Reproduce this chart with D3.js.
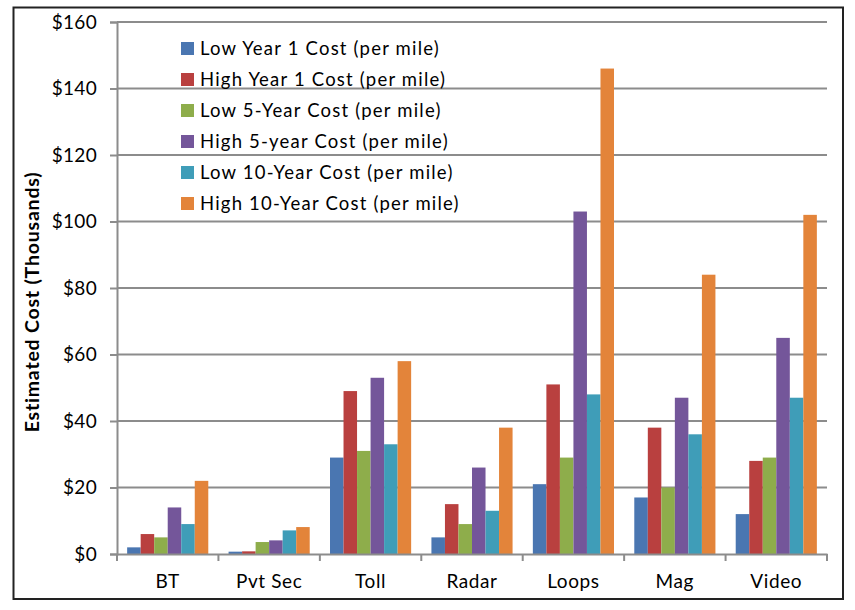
<!DOCTYPE html>
<html>
<head>
<meta charset="utf-8">
<script src="https://cdn.jsdelivr.net/npm/d3@7"></script>
<style>
  html, body { margin: 0; padding: 0; background: #fff; }
  svg { display: block; }
  text { font-family: Lato, "Open Sans", sans-serif; fill: #000; }
</style>
</head>
<body>
<svg id="chart" width="855" height="610"></svg>
<script>
const categories = ["BT", "Pvt Sec", "Toll", "Radar", "Loops", "Mag", "Video"];
const seriesNames = [
  "Low Year 1 Cost (per mile)",
  "High Year 1 Cost (per mile)",
  "Low 5-Year Cost (per mile)",
  "High 5-year Cost (per mile)",
  "Low 10-Year Cost (per mile)",
  "High 10-Year Cost (per mile)"
];
const lowYear1   = [2, 0.7, 29, 5, 21, 17, 12];
const highYear1  = [6, 0.8, 49, 15, 51, 38, 28];
const low5Year   = [5, 3.6, 31, 9, 29, 20, 29];
const high5Year  = [14, 4.1, 53, 26, 103, 47, 65];
const low10Year  = [9, 7.1, 33, 13, 48, 36, 47];
const high10Year = [22, 8.1, 58, 38, 146, 84, 102];
const seriesValues = [lowYear1, highYear1, low5Year, high5Year, low10Year, high10Year];
const yTicks = [0, 20, 40, 60, 80, 100, 120, 140, 160];
const colors = ["#4A76B1", "#B9403F", "#8EAD4B", "#74569A", "#3F9DB8", "#E3843A"];
const yLabel = "Estimated Cost (Thousands)";

const svg = d3.select("#chart");
const plot = { left: 117, right: 827, top: 22, bottom: 554 };

// outer frame
svg.append("rect")
  .attr("x", 13.5).attr("y", 7.5).attr("width", 829.5).attr("height", 591.5)
  .attr("fill", "none").attr("stroke", "#222").attr("stroke-width", 2);

const x0 = d3.scaleBand().domain(categories).range([plot.left, plot.right]).paddingInner(0.2).paddingOuter(0.1);
const xCat = d3.scaleBand().domain(categories).range([plot.left, plot.right]).padding(0);
const x1 = d3.scaleBand().domain(d3.range(seriesNames.length)).range([0, x0.bandwidth()]).padding(0);
const y = d3.scaleLinear().domain([0, 160]).range([plot.bottom, plot.top]);

// gridlines
svg.append("g").selectAll("line").data(yTicks.filter(d => d > 0)).join("line")
  .attr("x1", plot.left).attr("x2", plot.right)
  .attr("y1", d => y(d)).attr("y2", d => y(d))
  .attr("stroke", "#8c8c8c").attr("stroke-width", 2);

// y axis
const yAxis = d3.axisLeft(y).tickValues(yTicks).tickFormat(d => "$" + d).tickSize(7).tickPadding(13);
const gy = svg.append("g").attr("transform", `translate(${plot.left},0)`).call(yAxis);
gy.select(".domain").attr("stroke", "#8c8c8c").attr("stroke-width", 2);
gy.selectAll(".tick line").attr("stroke", "#8c8c8c").attr("stroke-width", 2);
gy.selectAll(".tick text").style("font-size", "19px").style("letter-spacing", "0.3px")
  .style("font-family", "Lato, 'Open Sans', sans-serif").attr("fill", "#000");

// bars
const groups = svg.append("g").selectAll("g").data(categories).join("g")
  .attr("transform", d => `translate(${x0(d)},0)`);
groups.selectAll("rect").data((c, ci) => seriesValues.map((s, si) => ({ si, v: s[ci] }))).join("rect")
  .attr("x", d => x1(d.si))
  .attr("width", x1.bandwidth())
  .attr("y", d => y(d.v))
  .attr("height", d => y(0) - y(d.v))
  .attr("fill", d => colors[d.si]);

// x axis
const xAxis = d3.axisBottom(xCat).tickSize(0).tickPadding(21);
const gx = svg.append("g").attr("transform", `translate(0,${plot.bottom})`).call(xAxis);
gx.select(".domain").attr("stroke", "#8c8c8c").attr("stroke-width", 2);
gx.selectAll(".tick text").style("font-size", "19px").style("letter-spacing", "0.6px")
  .style("font-family", "Lato, 'Open Sans', sans-serif").attr("fill", "#000");
// category boundary ticks
const bounds = categories.map(c => xCat(c)).concat([plot.right]);
svg.append("g").selectAll("line").data(bounds).join("line")
  .attr("x1", d => d).attr("x2", d => d)
  .attr("y1", plot.bottom).attr("y2", plot.bottom + 7)
  .attr("stroke", "#8c8c8c").attr("stroke-width", 2);

// y label
svg.append("text")
  .attr("transform", `translate(39,302) rotate(-90)`)
  .attr("text-anchor", "middle")
  .style("font-size", "19.5px").style("font-weight", "bold").style("letter-spacing", "0.8px")
  .text(yLabel);

// legend
const legend = svg.append("g").attr("transform", "translate(181,49)");
const li = legend.selectAll("g").data(seriesNames).join("g")
  .attr("transform", (d, i) => `translate(0,${i * 31})`);
li.append("rect").attr("x", 0).attr("y", -7).attr("width", 13).attr("height", 13)
  .attr("fill", (d, i) => colors[i]);
li.append("text").attr("x", 19).attr("y", 0).attr("dy", "0.35em")
  .style("font-size", "18.5px").style("letter-spacing", "1.2px").text(d => d);
</script>
</body>
</html>
